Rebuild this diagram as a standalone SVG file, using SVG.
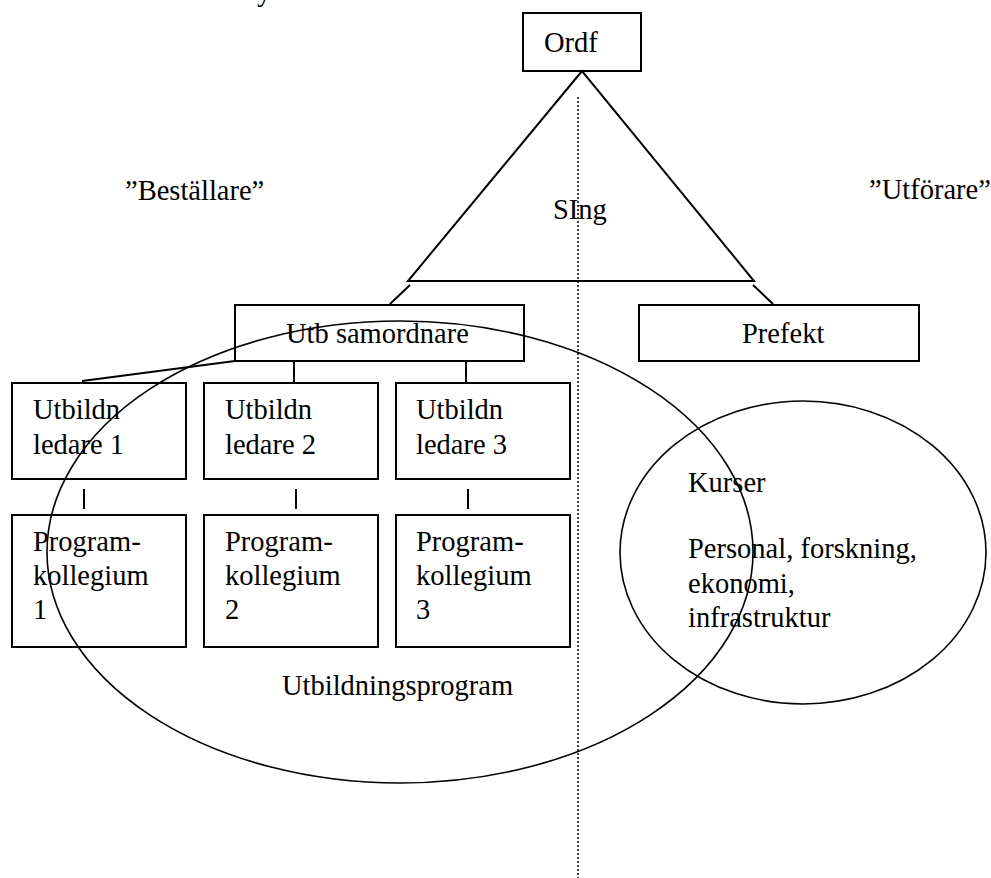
<svg xmlns="http://www.w3.org/2000/svg" width="991" height="878" viewBox="0 0 991 878">
  <style>
    .box { fill: none; stroke: #000; stroke-width: 2; }
    .ln { fill: none; stroke: #000; stroke-width: 2; }
    .ell { fill: none; stroke: #000; stroke-width: 1.6; }
    .dot { fill: none; stroke: #000; stroke-width: 1.5; stroke-dasharray: 2 2; }
    text { font-family: "Liberation Serif", "Times New Roman", serif; font-size: 28.5px; fill: #000; }
  </style>
  <rect width="991" height="878" fill="#fff"/>

  <!-- heading fragment at the top edge -->
  <text x="257" y="1">y</text>

  <!-- dividing line between the two sides -->
  <line class="dot" x1="578" y1="97" x2="578" y2="878"/>

  <!-- side labels -->
  <text x="125" y="200">”Beställare”</text>
  <text x="869" y="199">”Utförare”</text>

  <g id="connectors">
    <polygon class="ln" points="582,71 408,281 754,281"/>
    <line class="ln" x1="410" y1="285" x2="390" y2="304"/>
    <line class="ln" x1="753" y1="285" x2="773" y2="304"/>
    <line class="ln" x1="235" y1="361" x2="82" y2="381"/>
    <line class="ln" x1="294" y1="361" x2="294" y2="382"/>
    <line class="ln" x1="466" y1="361" x2="466" y2="382"/>
    <line class="ln" x1="84" y1="489" x2="84" y2="509"/>
    <line class="ln" x1="296" y1="489" x2="296" y2="509"/>
    <line class="ln" x1="468" y1="489" x2="468" y2="509"/>
  </g>

  <g id="ordf">
    <rect class="box" x="523" y="13" width="118" height="58"/>
    <text x="544" y="52" font-size="30">Ordf</text>
  </g>

  <g id="sing">
    <text x="553" y="219">SIng</text>
  </g>

  <g id="utb-samordnare">
    <rect class="box" x="235" y="305" width="289" height="56"/>
    <text x="286" y="343">Utb samordnare</text>
  </g>

  <g id="prefekt">
    <rect class="box" x="639" y="305" width="280" height="56"/>
    <text x="742" y="343">Prefekt</text>
  </g>

  <g id="ledare-1">
    <rect class="box" x="12" y="383" width="174" height="96"/>
    <text x="33" y="419">Utbildn</text>
    <text x="33" y="454">ledare 1</text>
  </g>
  <g id="ledare-2">
    <rect class="box" x="204" y="383" width="174" height="96"/>
    <text x="225" y="419">Utbildn</text>
    <text x="225" y="454">ledare 2</text>
  </g>
  <g id="ledare-3">
    <rect class="box" x="396" y="383" width="174" height="96"/>
    <text x="416" y="419">Utbildn</text>
    <text x="416" y="454">ledare 3</text>
  </g>

  <g id="kollegium-1">
    <rect class="box" x="12" y="515" width="174" height="132"/>
    <text x="33" y="551">Program-</text>
    <text x="33" y="585">kollegium</text>
    <text x="33" y="619">1</text>
  </g>
  <g id="kollegium-2">
    <rect class="box" x="204" y="515" width="174" height="132"/>
    <text x="225" y="551">Program-</text>
    <text x="225" y="585">kollegium</text>
    <text x="225" y="619">2</text>
  </g>
  <g id="kollegium-3">
    <rect class="box" x="396" y="515" width="174" height="132"/>
    <text x="416" y="551">Program-</text>
    <text x="416" y="585">kollegium</text>
    <text x="416" y="619">3</text>
  </g>

  <g id="utbildningsprogram">
    <ellipse class="ell" cx="400" cy="552" rx="353" ry="231"/>
    <text x="282" y="695">Utbildningsprogram</text>
  </g>

  <g id="kurser">
    <ellipse class="ell" cx="803" cy="552.5" rx="183" ry="151.5"/>
    <text x="688" y="492">Kurser</text>
    <text x="688" y="558">Personal, forskning,</text>
    <text x="688" y="593">ekonomi,</text>
    <text x="688" y="627">infrastruktur</text>
  </g>
</svg>
